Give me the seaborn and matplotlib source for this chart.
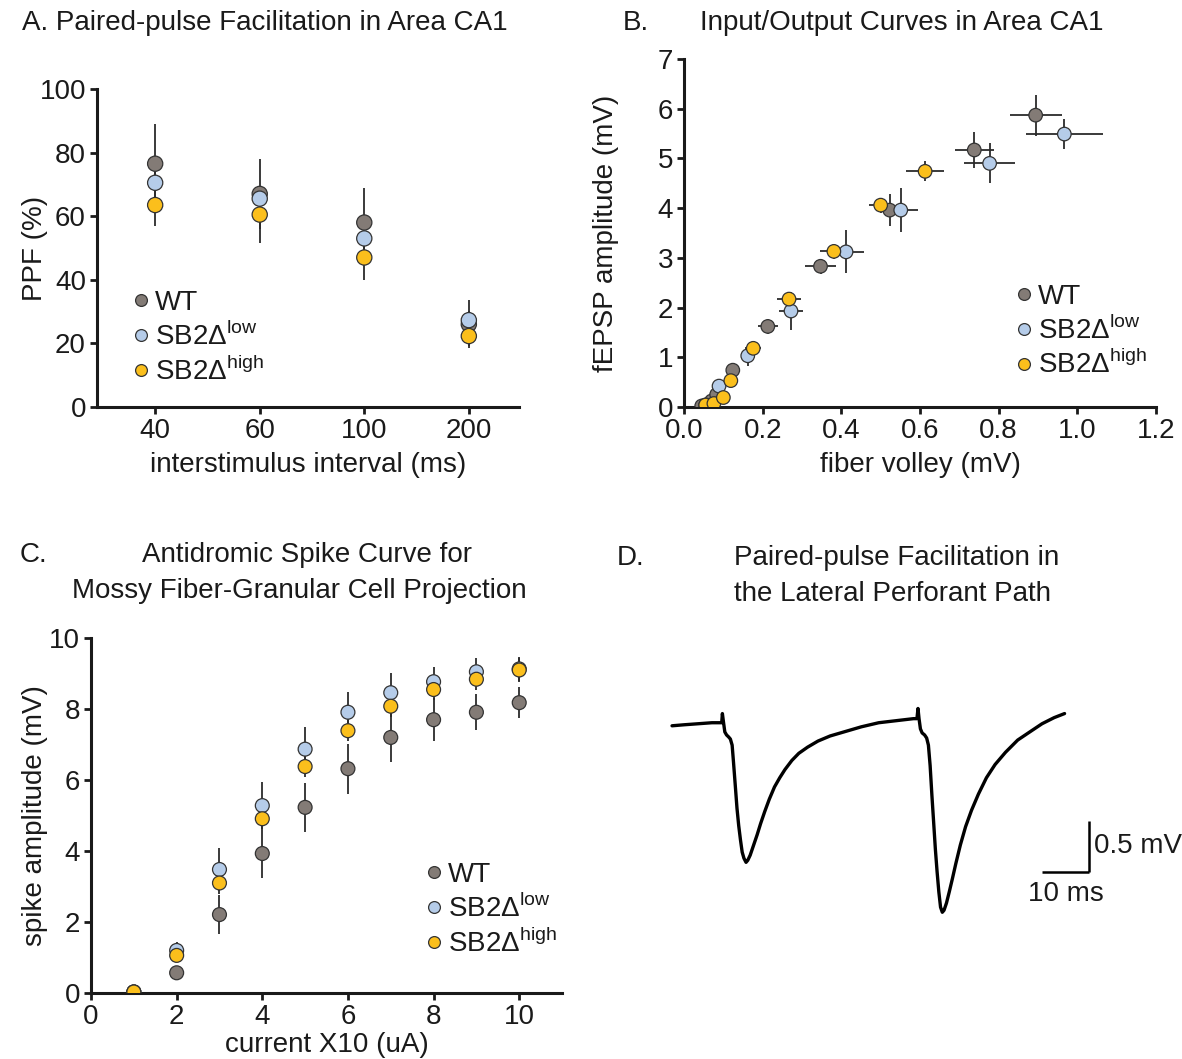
import numpy as np
import pandas as pd
import matplotlib
matplotlib.use("Agg")
import matplotlib.pyplot as plt
import seaborn as sns
from matplotlib.lines import Line2D
from matplotlib.ticker import FormatStrFormatter

# ---- data ----
groups = ["WT", "low", "high"]
labels = {"WT": "WT", "low": "SB2Δ$^{\\mathrm{low}}$", "high": "SB2Δ$^{\\mathrm{high}}$"}
colors = {"WT": "#837b76", "low": "#b5cce9", "high": "#fbbf1c"}

# A. paired-pulse facilitation
isi_labels = ["40", "60", "100", "200"]
ppf_wt = [76.5, 67.0, 58.0, 26.0]
ppf_low = [70.5, 65.5, 53.0, 27.3]
ppf_high = [63.5, 60.5, 47.0, 22.3]
ppf_wt_err = [12.5, 11.0, 11.0, 7.5]
ppf_low_err = [4.0, 4.0, 4.0, 3.0]
ppf_high_err = [6.5, 9.0, 7.0, 3.0]

# B. input/output curves
fv_wt = [0.045, 0.070, 0.083, 0.124, 0.213, 0.347, 0.523, 0.738, 0.894]
amp_wt = [0.02, 0.12, 0.25, 0.74, 1.62, 2.83, 3.96, 5.17, 5.87]
fv_wt_err = [0.005, 0.008, 0.010, 0.012, 0.025, 0.040, 0.035, 0.050, 0.066]
amp_wt_err = [0.02, 0.04, 0.06, 0.08, 0.15, 0.15, 0.32, 0.36, 0.41]

fv_low = [0.055, 0.089, 0.162, 0.272, 0.412, 0.551, 0.777, 0.967]
amp_low = [0.04, 0.42, 1.03, 1.93, 3.12, 3.96, 4.90, 5.49]
fv_low_err = [0.005, 0.010, 0.015, 0.030, 0.045, 0.045, 0.065, 0.098]
amp_low_err = [0.03, 0.10, 0.20, 0.38, 0.43, 0.44, 0.40, 0.31]

fv_high = [0.055, 0.076, 0.100, 0.119, 0.176, 0.267, 0.381, 0.500, 0.613]
amp_high = [0.04, 0.07, 0.19, 0.53, 1.18, 2.17, 3.13, 4.06, 4.74]
fv_high_err = [0.005, 0.008, 0.010, 0.012, 0.020, 0.030, 0.035, 0.030, 0.048]
amp_high_err = [0.02, 0.03, 0.05, 0.08, 0.10, 0.12, 0.15, 0.15, 0.20]

# C. antidromic spike curve
current = [1, 2, 3, 4, 5, 6, 7, 8, 9, 10]
spike_wt = [0.03, 0.57, 2.21, 3.93, 5.23, 6.32, 7.20, 7.70, 7.91, 8.18]
spike_wt_err = [0.0, 0.0, 0.55, 0.70, 0.68, 0.70, 0.70, 0.60, 0.50, 0.44]
spike_low = [0.03, 1.20, 3.48, 5.28, 6.87, 7.91, 8.46, 8.77, 9.05, 9.13]
spike_low_err = [0.0, 0.25, 0.60, 0.66, 0.62, 0.57, 0.56, 0.42, 0.38, 0.35]
spike_high = [0.03, 1.06, 3.10, 4.91, 6.38, 7.39, 8.08, 8.55, 8.84, 9.10]
spike_high_err = [0.0, 0.15, 0.30, 0.30, 0.30, 0.30, 0.30, 0.30, 0.30, 0.33]

# D. example trace (ms, mV)
trace_t = [0.0, 2.55, 5.47, 8.39, 10.44, 10.58, 10.80, 11.09, 11.46, 11.90, 12.26, 12.63,
           12.92, 13.28, 13.65, 14.01, 14.38, 14.74, 15.11, 15.55, 15.91, 16.42, 17.15,
           17.88, 18.61, 19.49, 20.44, 21.53, 22.63, 23.72, 25.18, 26.64, 28.47, 30.66,
           33.21, 36.13, 39.78, 43.43, 47.08, 50.73, 51.46, 51.68, 51.90, 52.19, 52.55,
           53.07, 53.50, 53.87, 54.23, 54.60, 54.96, 55.33, 55.69, 56.06, 56.42, 56.79,
           57.15, 57.66, 58.25, 58.91, 59.64, 60.58, 61.68, 62.92, 64.38, 66.06, 67.88,
           70.07, 72.63, 75.18, 77.74, 80.29, 82.48]
trace_v = [-0.01, 0.00, 0.01, 0.02, 0.02, 0.11, 0.03, -0.07, -0.10, -0.12, -0.14, -0.20,
           -0.37, -0.59, -0.82, -0.99, -1.13, -1.25, -1.31, -1.35, -1.33, -1.28, -1.18,
           -1.08, -0.97, -0.85, -0.73, -0.61, -0.52, -0.44, -0.35, -0.28, -0.22, -0.16,
           -0.11, -0.07, -0.02, 0.02, 0.04, 0.06, 0.06, 0.16, 0.06, -0.04, -0.08,
           -0.10, -0.13, -0.20, -0.40, -0.69, -0.95, -1.22, -1.44, -1.64, -1.79, -1.84,
           -1.82, -1.75, -1.64, -1.51, -1.36, -1.18, -1.00, -0.84, -0.68, -0.52, -0.39,
           -0.27, -0.15, -0.07, 0.01, 0.07, 0.11]

# ---- style ----
sns.set_style("ticks")
plt.rcParams["font.family"] = ["Liberation Sans", "DejaVu Sans"]
plt.rcParams["mathtext.fontset"] = "custom"
plt.rcParams["mathtext.rm"] = "Liberation Sans"
FS = 20
INK = "#1a1a1a"


def frame(x, y, xerr=None, yerr=None):
    parts = []
    for g in groups:
        d = pd.DataFrame({"x": x[g], "y": y[g], "group": g})
        d["xerr"] = xerr[g] if xerr is not None else 0.0
        d["yerr"] = yerr[g] if yerr is not None else 0.0
        parts.append(d)
    return pd.concat(parts, ignore_index=True)


def draw(ax, df, size):
    ax.errorbar(df["x"], df["y"], xerr=df["xerr"], yerr=df["yerr"], fmt="none",
                ecolor="#2b2b2b", elinewidth=1.3, capsize=0, zorder=1)
    sns.scatterplot(data=df, x="x", y="y", hue="group", palette=colors, s=size,
                    edgecolor="#333333", linewidth=0.9, legend=False, ax=ax, zorder=3)


def style(ax, xpad=2, ypad=4):
    sns.despine(ax=ax)
    for sp in ["left", "bottom"]:
        ax.spines[sp].set_linewidth(2.2)
        ax.spines[sp].set_color(INK)
    ax.tick_params(width=2, length=5, labelsize=FS, pad=3, colors=INK)
    ax.set_xlabel(ax.get_xlabel(), fontsize=FS, color=INK, labelpad=xpad)
    ax.set_ylabel(ax.get_ylabel(), fontsize=FS, color=INK, labelpad=ypad)


def legend(ax, x, y):
    handles = [Line2D([], [], marker="o", ls="none", ms=8.5, markerfacecolor=colors[g],
                      markeredgecolor="#333333", markeredgewidth=0.9) for g in groups]
    leg = ax.legend(handles, [labels[g] for g in groups], loc="upper left",
                    bbox_to_anchor=(x, y), bbox_transform=fig.transFigure, frameon=False,
                    fontsize=FS, handletextpad=0.1, labelspacing=0.2, handlelength=0.8,
                    borderpad=0, borderaxespad=0)
    for t in leg.get_texts():
        t.set_color(INK)


fig = plt.figure(figsize=(11.82, 10.59), dpi=100)

# A
axA = fig.add_axes([0.0821, 0.6157, 0.357, 0.3003])
pos = list(range(len(isi_labels)))
dfA = frame({g: pos for g in groups},
            {"WT": ppf_wt, "low": ppf_low, "high": ppf_high},
            yerr={"WT": ppf_wt_err, "low": ppf_low_err, "high": ppf_high_err})
draw(axA, dfA, 120)
axA.set_xlim(-0.556, 3.48)
axA.set_ylim(0, 100)
axA.set_xticks(pos)
axA.set_xticklabels(isi_labels)
axA.set_yticks(range(0, 101, 20))
axA.set_xlabel("interstimulus interval (ms)")
axA.set_ylabel("PPF (%)")
style(axA, xpad=6, ypad=-6)
legend(axA, 0.110, 0.726)

# B
axB = fig.add_axes([0.5787, 0.6157, 0.3993, 0.3286])
dfB = frame({"WT": fv_wt, "low": fv_low, "high": fv_high},
            {"WT": amp_wt, "low": amp_low, "high": amp_high},
            xerr={"WT": fv_wt_err, "low": fv_low_err, "high": fv_high_err},
            yerr={"WT": amp_wt_err, "low": amp_low_err, "high": amp_high_err})
draw(axB, dfB, 95)
axB.set_xlim(0, 1.2)
axB.set_ylim(0, 7)
axB.set_xticks(np.arange(0, 1.21, 0.2))
axB.xaxis.set_major_formatter(FormatStrFormatter("%.1f"))
axB.set_yticks(range(0, 8))
axB.set_xlabel("fiber volley (mV)")
axB.set_ylabel("fEPSP amplitude (mV)")
style(axB, xpad=6, ypad=28)
legend(axB, 0.857, 0.732)

# C
axC = fig.add_axes([0.077, 0.0623, 0.3985, 0.3352])
dfC = frame({g: current for g in groups},
            {"WT": spike_wt, "low": spike_low, "high": spike_high},
            yerr={"WT": spike_wt_err, "low": spike_low_err, "high": spike_high_err})
draw(axC, dfC, 100)
axC.set_xlim(0, 11)
axC.set_ylim(0, 10)
axC.set_xticks(range(0, 11, 2))
axC.set_yticks(range(0, 11, 2))
axC.set_xlabel("current X10 (uA)")
axC.set_ylabel("spike amplitude (mV)")
style(axC, xpad=1, ypad=1)
legend(axC, 0.358, 0.186)

# D
axD = fig.add_axes([0.5605, 0.1039, 0.4107, 0.2502])
sns.lineplot(x=trace_t, y=trace_v, sort=False, estimator=None, color="black",
             linewidth=2.4, ax=axD)
axD.plot([77.7, 87.7], [-1.44, -1.44], color="black", lw=1.8, solid_capstyle="butt")
axD.plot([87.7, 87.7], [-1.44, -0.94], color="black", lw=1.8, solid_capstyle="butt")
axD.text(88.7, -1.19, "0.5 mV", fontsize=FS, va="center", ha="left", color=INK,
         clip_on=False)
axD.text(82.7, -1.66, "10 ms", fontsize=FS, va="center", ha="center", color=INK)
axD.set_xlim(-2, 100)
axD.set_ylim(-2.2, 0.4)
axD.axis("off")


# panel titles
def ftext(x, y, s, ha="left"):
    fig.text(x / 1182, 1 - y / 1059, s, fontsize=FS, ha=ha, va="center", color=INK)


ftext(22, 23, "A. Paired-pulse Facilitation in Area CA1")
ftext(623, 23, "B.")
ftext(700, 23, "Input/Output Curves in Area CA1")
ftext(20, 555, "C.")
ftext(307, 555, "Antidromic Spike Curve for", ha="center")
ftext(299, 591, "Mossy Fiber-Granular Cell Projection", ha="center")
ftext(617, 558, "D.")
ftext(897, 558, "Paired-pulse Facilitation in", ha="center")
ftext(893, 594, "the Lateral Perforant Path", ha="center")

fig.savefig("out.png", dpi=100)
